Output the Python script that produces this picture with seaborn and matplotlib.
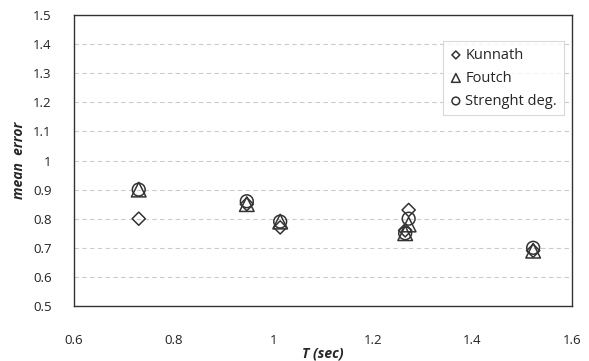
import numpy as np
import pandas as pd
import matplotlib
matplotlib.use("Agg")
import matplotlib.pyplot as plt
import seaborn as sns

# data
period = [0.73, 0.947, 1.014, 1.272, 1.265, 1.522]
kunnath = [0.80, 0.85, 0.77, 0.83, 0.76, 0.69]
foutch = [0.90, 0.85, 0.79, 0.78, 0.75, 0.69]
strength = [0.90, 0.86, 0.79, 0.80, 0.75, 0.70]

series_names = ["Kunnath", "Foutch", "Strenght deg."]
x_ticks = [0.6, 0.8, 1.0, 1.2, 1.4, 1.6]
y_ticks = [0.5, 0.6, 0.7, 0.8, 0.9, 1.0, 1.1, 1.2, 1.3, 1.4, 1.5]

df = pd.DataFrame({
    "T": period * 3,
    "err": kunnath + foutch + strength,
    "series": np.repeat(series_names, len(period)),
})

sns.set_style("white")
plt.rcParams["font.family"] = ["Open Sans", "DejaVu Sans"]

fig = plt.figure(figsize=(5.89, 3.61), dpi=100)
ax = fig.add_axes([74 / 589, 1 - 306 / 361, (572 - 74) / 589, (306 - 15) / 361])

markers = {"Kunnath": "D", "Foutch": "^", "Strenght deg.": "o"}
sizes = {"Kunnath": 45, "Foutch": 110, "Strenght deg.": 85}
for name in series_names:
    sub = df[df["series"] == name]
    sns.scatterplot(data=sub, x="T", y="err", marker=markers[name], s=sizes[name],
                    facecolors="none", edgecolor="#333333", linewidth=1.1,
                    label=name, ax=ax, zorder=3)

ax.set_xlim(0.6, 1.6)
ax.set_ylim(0.5, 1.5)
ax.set_xticks(x_ticks)
ax.set_yticks(y_ticks)
ax.set_xticklabels([f"{v:g}" for v in x_ticks])
ax.set_yticklabels([f"{v:g}" for v in y_ticks])
ax.tick_params(axis="x", length=0, pad=20, labelsize=9.5, colors="#222222")
ax.tick_params(axis="y", length=0, pad=16, labelsize=9.5, colors="#222222")

ax.yaxis.grid(True, linestyle=(0, (4, 3)), color="#cccccc", linewidth=0.8)
ax.xaxis.grid(False)
for sp in ax.spines.values():
    sp.set_color("#333333")
    sp.set_linewidth(1.0)

ax.set_xlabel("T (sec)", fontsize=10, fontweight="bold", style="italic", labelpad=0)
ax.set_ylabel("mean  error", fontsize=10, fontweight="bold", style="italic", labelpad=5)

leg = ax.legend(loc="upper right", bbox_to_anchor=(0.992, 0.925), frameon=True,
                fancybox=False, edgecolor="#d0d0d0", fontsize=10.5,
                handletextpad=0.2, borderpad=0.45, labelspacing=0.55,
                handlelength=0.9, markerscale=0.6, borderaxespad=0.3)
leg.get_frame().set_linewidth(0.8)

fig.savefig("out.png", dpi=100)
